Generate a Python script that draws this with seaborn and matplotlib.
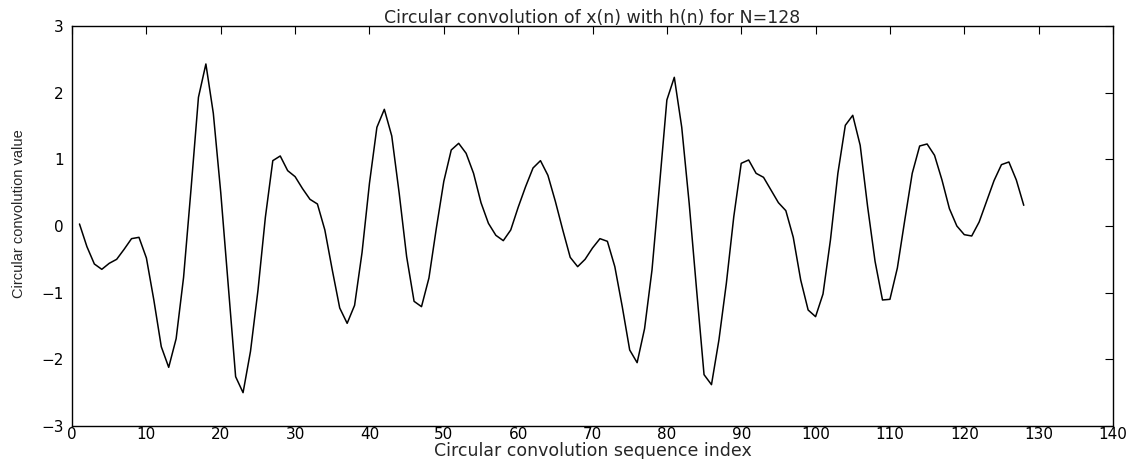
import numpy as np
import pandas as pd
import matplotlib
matplotlib.use("Agg")
import matplotlib.pyplot as plt
import seaborn as sns

# Circular convolution values, indices 1..128
index = list(range(1, 129))
values = [
    0.03, -0.31, -0.57, -0.65, -0.56, -0.50, -0.35, -0.19, -0.17, -0.48,
    -1.11, -1.81, -2.12, -1.69, -0.77, 0.55, 1.93, 2.43, 1.69, 0.50,
    -0.87, -2.26, -2.50, -1.88, -0.97, 0.13, 0.98, 1.05, 0.83, 0.74,
    0.56, 0.40, 0.33, -0.06, -0.66, -1.23, -1.46, -1.19, -0.40, 0.64,
    1.48, 1.75, 1.35, 0.49, -0.46, -1.13, -1.21, -0.78, -0.03, 0.67,
    1.14, 1.24, 1.09, 0.79, 0.35, 0.04, -0.14, -0.22, -0.06, 0.28,
    0.59, 0.87, 0.98, 0.76, 0.37, -0.06, -0.47, -0.61, -0.50, -0.33,
    -0.19, -0.23, -0.61, -1.21, -1.86, -2.05, -1.54, -0.66, 0.60, 1.89,
    2.23, 1.48, 0.34, -0.96, -2.23, -2.38, -1.71, -0.86, 0.14, 0.94,
    0.99, 0.79, 0.73, 0.54, 0.35, 0.23, -0.17, -0.81, -1.26, -1.36,
    -1.02, -0.21, 0.79, 1.51, 1.66, 1.21, 0.29, -0.53, -1.11, -1.10,
    -0.63, 0.09, 0.79, 1.20, 1.23, 1.06, 0.69, 0.26, 0.00, -0.13,
    -0.15, 0.06, 0.37, 0.68, 0.92, 0.96, 0.69, 0.31,
]

title = "Circular convolution of x(n) with h(n) for N=128"
xlabel = "Circular convolution sequence index"
ylabel = "Circular convolution value"
xticks = list(range(0, 141, 10))
yticks = list(range(-3, 4))

df = pd.DataFrame({"n": index, "y": values})

sns.set_style("white")
plt.rcParams["font.family"] = ["DejaVu Sans"]

fig = plt.figure(figsize=(11.4, 4.59), dpi=100)
ax = fig.add_axes([0.0632, 0.0719, 0.9131, 0.8715])

sns.lineplot(data=df, x="n", y="y", ax=ax, color="black", linewidth=1.1)

ax.set_xlim(0, 140)
ax.set_ylim(-3, 3)
ax.set_xticks(xticks)
ax.set_yticks(yticks)
ax.tick_params(direction="in", top=True, right=True, length=6, width=0.8,
               labelsize=11, colors="black", pad=1)
ax.tick_params(axis="y", pad=6)
for s in ax.spines.values():
    s.set_visible(True)
    s.set_color("black")
    s.set_linewidth(1.0)

ax.set_title(title, fontsize=12.5, pad=2)
ax.set_xlabel(xlabel, fontsize=12.5, labelpad=0)
ax.set_ylabel(ylabel, fontsize=10.5,
              family=["Liberation Sans Narrow", "Liberation Sans", "DejaVu Sans"])
ax.yaxis.set_label_coords(-0.044, 0.53)

fig.savefig("out.png", dpi=100)
